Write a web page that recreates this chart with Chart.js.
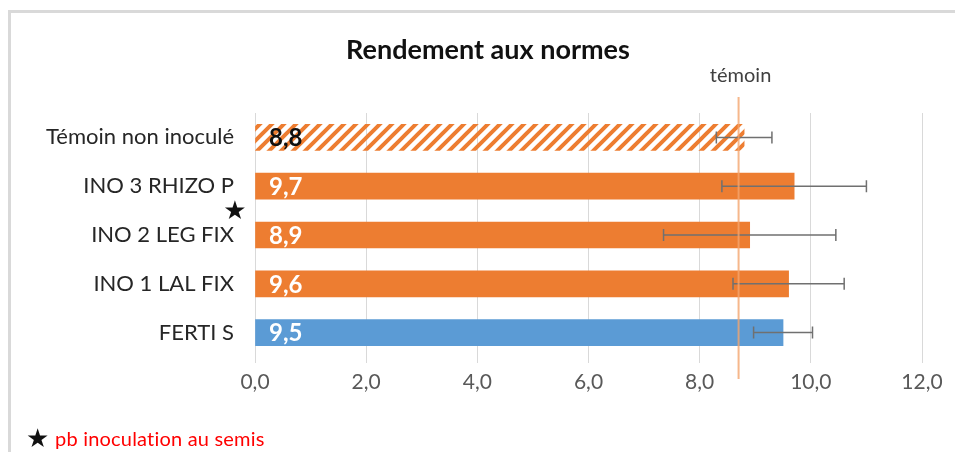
<!DOCTYPE html>
<html lang="fr">
<head>
<meta charset="utf-8">
<title>Rendement aux normes</title>
<script src="https://cdn.jsdelivr.net/npm/chart.js@4/dist/chart.umd.min.js"></script>
<style>
  html, body { margin: 0; padding: 0; background: #fff; }
  #wrap { position: relative; width: 955px; height: 452px; overflow: hidden; }
  #frame { position: absolute; left: 8px; top: 10px; width: 1000px; height: 500px;
           border-left: 3px solid #d9d9d9; border-top: 3px solid #d9d9d9; }
  canvas { position: absolute; left: 0; top: 0; }
</style>
</head>
<body>
<div id="wrap">
  <div id="frame"></div>
  <canvas id="rendementChart" width="955" height="452"></canvas>
</div>
<script>
const categories = ['Témoin non inoculé', 'INO 3 RHIZO P', 'INO 2 LEG FIX', 'INO 1 LAL FIX', 'FERTI S'];
const rendement = [8.8, 9.7, 8.9, 9.6, 9.5];
const ecarts = [0.5, 1.3, 1.55, 1.0, 0.53];
const xTicks = [0, 2, 4, 6, 8, 10, 12];
const temoinValue = 8.7;

const FONT = 'Lato, "Open Sans", sans-serif';
const orange = '#ED7D31';
const blue = '#5B9BD5';

// orange diagonal stripes for the control bar
function makeHatch() {
    const c = document.createElement('canvas');
    c.width = 12;
    c.height = 12;
    const g = c.getContext('2d');
    g.strokeStyle = orange;
    g.lineWidth = 4;
    g.beginPath();
    g.moveTo(-3, 15); g.lineTo(15, -3);
    g.moveTo(-9, 9); g.lineTo(9, -9);
    g.moveTo(3, 21); g.lineTo(21, 3);
    g.stroke();
    return g.createPattern(c, 'repeat');
}

const fmt = v => v.toFixed(1).replace('.', ',');

const extras = {
    id: 'extras',
    afterDatasetsDraw(chart) {
        const { ctx, scales: { x, y } } = chart;
        const meta = chart.getDatasetMeta(0);
        ctx.save();

        // error bars
        ctx.strokeStyle = '#707070';
        ctx.lineWidth = 1.5;
        rendement.forEach((v, i) => {
            const yy = meta.data[i].y;
            const x1 = x.getPixelForValue(v - ecarts[i]);
            const x2 = x.getPixelForValue(v + ecarts[i]);
            ctx.beginPath();
            ctx.moveTo(x1, yy); ctx.lineTo(x2, yy);
            ctx.moveTo(x1, yy - 6); ctx.lineTo(x1, yy + 6);
            ctx.moveTo(x2, yy - 6); ctx.lineTo(x2, yy + 6);
            ctx.stroke();
        });

        // value labels at the base of each bar
        ctx.font = 'bold 24px ' + FONT;
        ctx.textBaseline = 'middle';
        ctx.textAlign = 'left';
        rendement.forEach((v, i) => {
            ctx.fillStyle = i === 0 ? '#111' : '#fff';
            ctx.fillText(fmt(v), x.getPixelForValue(0) + 14, meta.data[i].y + 1);
        });

        // control reference line
        const tx = x.getPixelForValue(temoinValue);
        ctx.strokeStyle = 'rgba(244,165,110,0.8)';
        ctx.lineWidth = 2;
        ctx.beginPath();
        ctx.moveTo(tx, 97); ctx.lineTo(tx, 379);
        ctx.stroke();
        ctx.fillStyle = '#404040';
        ctx.font = '20px ' + FONT;
        ctx.textAlign = 'center';
        ctx.fillText('témoin', tx + 2, 76);

        // title
        ctx.fillStyle = '#111';
        ctx.font = 'bold 27px ' + FONT;
        ctx.fillText('Rendement aux normes', 488, 50);

        // star next to INO 2
        ctx.font = '26px "DejaVu Sans"';
        ctx.fillText('★', 235, 212);

        // footnote (small letter spacing keeps "ti" from joining)
        ctx.textAlign = 'left';
        ctx.fillText('★', 26, 440);
        ctx.fillStyle = '#ff0000';
        ctx.font = '20px ' + FONT;
        ctx.letterSpacing = '0.2px';
        ctx.fillText('pb inoculation au semis', 55, 440);

        ctx.restore();
    }
};

new Chart(document.getElementById('rendementChart'), {
    type: 'bar',
    data: {
        labels: categories,
        datasets: [{
            data: rendement,
            backgroundColor: [makeHatch(), orange, orange, orange, blue],
            barThickness: 26,
        }],
    },
    options: {
        indexAxis: 'y',
        responsive: false,
        animation: false,
        layout: { padding: { top: 113, right: 33, left: 0, bottom: 0 } },
        plugins: {
            legend: { display: false },
            tooltip: { enabled: false },
        },
        scales: {
            x: {
                min: 0,
                max: 12,
                afterBuildTicks: scale => { scale.ticks = xTicks.map(v => ({ value: v })); },
                afterFit: scale => { scale.height = 95; },
                grid: { color: '#d9d9d9', tickLength: 6 },
                border: { display: false },
                ticks: {
                    color: '#595959',
                    font: { family: FONT, size: 21 },
                    padding: 7,
                    callback: v => fmt(v),
                },
            },
            y: {
                afterFit: scale => { scale.width = 255; },
                grid: { display: false, drawTicks: false },
                border: { display: false },
                ticks: {
                    color: '#262626',
                    font: { family: FONT, size: 22 },
                    padding: 21,
                },
            },
        },
    },
    plugins: [extras],
});
</script>
</body>
</html>
